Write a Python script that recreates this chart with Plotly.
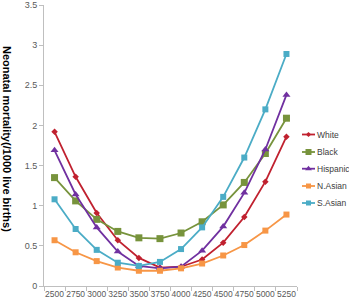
import plotly.graph_objects as go

categories = ["2500", "2750", "3000", "3250", "3500", "3750", "4000", "4250", "4500", "4750", "5000", "5250"]
white = [1.92, 1.36, 0.91, 0.57, 0.35, 0.23, 0.24, 0.33, 0.54, 0.86, 1.30, 1.86]
black = [1.35, 1.06, 0.83, 0.68, 0.60, 0.59, 0.66, 0.80, 1.01, 1.29, 1.65, 2.09]
hispanic = [1.69, 1.14, 0.73, 0.43, 0.25, 0.22, 0.24, 0.44, 0.74, 1.16, 1.70, 2.38]
n_asian = [0.57, 0.42, 0.31, 0.23, 0.19, 0.19, 0.22, 0.28, 0.38, 0.51, 0.69, 0.89]
s_asian = [1.08, 0.71, 0.45, 0.29, 0.25, 0.30, 0.46, 0.73, 1.11, 1.60, 2.20, 2.89]
series_names = ["White", "Black", "Hispanic", "N.Asian", "S.Asian"]
y_ticks = [0, 0.5, 1, 1.5, 2, 2.5, 3, 3.5]
y_title = "Neonatal mortality(/1000 live births)"

series = [white, black, hispanic, n_asian, s_asian]
colors = ["#C0212F", "#77933C", "#7030A0", "#F79646", "#4BACC6"]
symbols = ["diamond", "square", "triangle-up", "square", "square"]
sizes = [5, 7, 7, 6, 6]

FONT = "Liberation Sans"
W, H = 349, 305
ML, MR, MT, MB = 44, 0, 5, 19
plot_right = 297
pw = W - ML - MR
dom_end = (plot_right - ML) / pw
leg_start = (302 - ML) / pw

fig = go.Figure()
for name, vals, c, s, sz in zip(series_names, series, colors, symbols, sizes):
    fig.add_trace(go.Scatter(
        x=categories, y=vals, name=name, mode="lines+markers",
        line=dict(color=c, width=1.8),
        marker=dict(color=c, symbol=s, size=sz),
        showlegend=False, xaxis="x", yaxis="y",
    ))

# custom legend on an auxiliary axis (pixel-like coordinates)
leg_y = [134.5, 152, 168.7, 186, 203]
for name, c, s, sz, ly in zip(series_names, colors, symbols, sizes, leg_y):
    fig.add_trace(go.Scatter(
        x=[0, 13], y=[ly, ly], mode="lines", line=dict(color=c, width=1.8),
        showlegend=False, xaxis="x2", yaxis="y2", hoverinfo="skip",
    ))
    fig.add_trace(go.Scatter(
        x=[6.5], y=[ly], mode="markers",
        marker=dict(color=c, symbol=s, size=sz - 1),
        showlegend=False, xaxis="x2", yaxis="y2", hoverinfo="skip",
    ))
    fig.add_annotation(
        x=13, y=ly, xref="x2", yref="y2", text=name, showarrow=False,
        xanchor="left", yanchor="middle",
        font=dict(family=FONT, size=8.5, color="#404040"),
    )

fig.add_annotation(
    x=(7 - ML) / pw, y=(H - MB - 139) / (H - MT - MB), xref="paper", yref="paper",
    text="<b>" + y_title + "</b>", textangle=90, showarrow=False,
    xanchor="center", yanchor="middle",
    font=dict(family=FONT, size=11, color="#000000"),
)

fig.update_layout(
    width=W, height=H,
    margin=dict(l=ML, r=MR, t=MT, b=MB, pad=0),
    paper_bgcolor="white", plot_bgcolor="white",
    xaxis=dict(
        domain=[0, dom_end], type="category", range=[-0.5, 11.5],
        showgrid=False, zeroline=False, showline=True, linecolor="#BFBFBF", linewidth=1,
        ticks="outside", tickson="boundaries", ticklen=4, tickcolor="#BFBFBF",
        tickangle=0,
        tickfont=dict(family=FONT, size=8.5, color="#595959"),
        fixedrange=True,
    ),
    yaxis=dict(
        domain=[0, 1], range=[0, 3.5], tickvals=y_ticks,
        ticktext=[str(v) for v in y_ticks],
        showgrid=False, zeroline=False, showline=True, linecolor="#BFBFBF", linewidth=1,
        ticks="outside", ticklen=4, tickcolor="#BFBFBF",
        tickfont=dict(family=FONT, size=9, color="#595959"),
    ),
    xaxis2=dict(domain=[leg_start, 1], range=[0, W - 302], visible=False, anchor="y2"),
    yaxis2=dict(domain=[0, 1], range=[H - MB, MT], visible=False, anchor="x2"),
    showlegend=False,
)

fig.write_html("out.html")
